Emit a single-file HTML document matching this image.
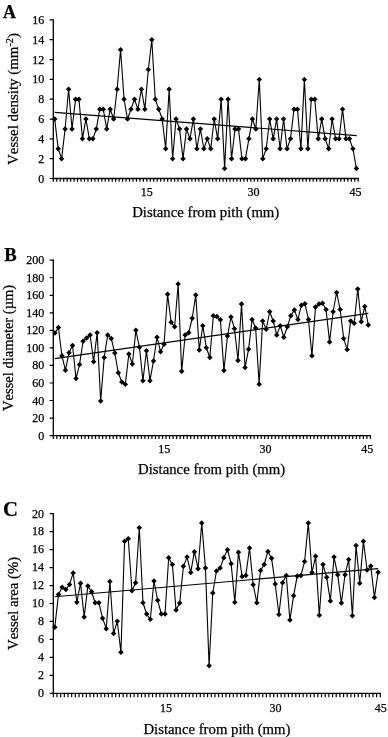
<!DOCTYPE html>
<html><head><meta charset="utf-8"><title>Figure</title>
<style>
html,body{margin:0;padding:0;background:#fff;}
svg{display:block;filter:grayscale(1);}
text{font-family:"Liberation Serif",serif;fill:#000;stroke:#000;stroke-width:0.25px;font-kerning:none;}
.tk{font-size:12px;}
.xt{font-size:14.75px;}
.ax{stroke:#000;stroke-width:1.3;fill:none;}
.tm{stroke:#000;stroke-width:1.2;fill:none;}
.ln{stroke:#000;stroke-width:1.1;fill:none;stroke-linejoin:round;}
.tr{stroke:#000;stroke-width:1.1;fill:none;}
.mk{fill:#000;stroke:none;}
</style></head><body>
<svg width="388" height="737" viewBox="0 0 388 737">
<rect width="388" height="737" fill="#fff"/>

<g id="panelA">
<text x="3.1" y="17.8" font-size="17.9px" font-weight="bold">A</text>
<path class="ax" d="M53.3 19.3V178.5H358.8"/>
<text class="tk" x="44.3" y="182.5" text-anchor="end">0</text>
<text class="tk" x="44.3" y="162.68" text-anchor="end">2</text>
<text class="tk" x="44.3" y="142.85" text-anchor="end">4</text>
<text class="tk" x="44.3" y="123.03" text-anchor="end">6</text>
<text class="tk" x="44.3" y="103.2" text-anchor="end">8</text>
<text class="tk" x="44.3" y="83.38" text-anchor="end">10</text>
<text class="tk" x="44.3" y="63.55" text-anchor="end">12</text>
<text class="tk" x="44.3" y="43.72" text-anchor="end">14</text>
<text class="tk" x="44.3" y="23.9" text-anchor="end">16</text>
<path class="tm" d="M49.7 178.5H53.3M49.7 158.68H53.3M49.7 138.85H53.3M49.7 119.03H53.3M49.7 99.2H53.3M49.7 79.38H53.3M49.7 59.55H53.3M49.7 39.72H53.3M49.7 19.9H53.3"/>
<path class="tm" d="M53.3 178.5v3.3M56.76 178.5v3.3M60.23 178.5v3.3M63.69 178.5v3.3M67.16 178.5v3.3M70.62 178.5v3.3M74.09 178.5v3.3M77.55 178.5v3.3M81.02 178.5v3.3M84.48 178.5v3.3M87.95 178.5v3.3M91.41 178.5v3.3M94.88 178.5v3.3M98.34 178.5v3.3M101.81 178.5v3.3M105.27 178.5v3.3M108.74 178.5v3.3M112.2 178.5v3.3M115.67 178.5v3.3M119.13 178.5v3.3M122.6 178.5v3.3M126.06 178.5v3.3M129.52 178.5v3.3M132.99 178.5v3.3M136.45 178.5v3.3M139.92 178.5v3.3M143.38 178.5v3.3M146.85 178.5v3.3M150.31 178.5v3.3M153.78 178.5v3.3M157.24 178.5v3.3M160.71 178.5v3.3M164.17 178.5v3.3M167.64 178.5v3.3M171.1 178.5v3.3M174.57 178.5v3.3M178.03 178.5v3.3M181.5 178.5v3.3M184.96 178.5v3.3M188.43 178.5v3.3M191.89 178.5v3.3M195.36 178.5v3.3M198.82 178.5v3.3M202.29 178.5v3.3M205.75 178.5v3.3M209.21 178.5v3.3M212.68 178.5v3.3M216.14 178.5v3.3M219.61 178.5v3.3M223.07 178.5v3.3M226.54 178.5v3.3M230 178.5v3.3M233.47 178.5v3.3M236.93 178.5v3.3M240.4 178.5v3.3M243.86 178.5v3.3M247.33 178.5v3.3M250.79 178.5v3.3M254.26 178.5v3.3M257.72 178.5v3.3M261.19 178.5v3.3M264.65 178.5v3.3M268.12 178.5v3.3M271.58 178.5v3.3M275.05 178.5v3.3M278.51 178.5v3.3M281.97 178.5v3.3M285.44 178.5v3.3M288.9 178.5v3.3M292.37 178.5v3.3M295.83 178.5v3.3M299.3 178.5v3.3M302.76 178.5v3.3M306.23 178.5v3.3M309.69 178.5v3.3M313.16 178.5v3.3M316.62 178.5v3.3M320.09 178.5v3.3M323.55 178.5v3.3M327.02 178.5v3.3M330.48 178.5v3.3M333.95 178.5v3.3M337.41 178.5v3.3M340.88 178.5v3.3M344.34 178.5v3.3M347.81 178.5v3.3M351.27 178.5v3.3M354.74 178.5v3.3M358.2 178.5v3.3"/>
<text class="tk" x="146.7" y="196.4" text-anchor="middle">15</text>
<text class="tk" x="253.6" y="196.4" text-anchor="middle">30</text>
<text class="tk" x="355.4" y="196.4" text-anchor="middle">45</text>
<text class="xt" x="132.2" y="217.3">Distance from pith (mm)</text>
<text x="17.6" y="164.9" font-size="14.9px" transform="rotate(-90 17.6 164.9)">Vessel density (mm<tspan dy="-4.7" font-size="10.3px">-2</tspan><tspan dy="4.7">)</tspan></text>
<path class="tr" d="M54.7 112.4L356.7 135.6"/>
<path class="ln" d="M54.7 119.04L58.17 148.77L61.64 158.68L65.1 128.95L68.57 89.31L72.04 128.95L75.51 99.22L78.97 99.22L82.44 138.86L85.91 119.04L89.38 138.86L92.85 138.86L96.31 128.95L99.78 109.13L103.25 109.13L106.72 128.95L110.19 109.13L113.65 119.04L117.12 89.31L120.59 49.67L124.06 99.22L127.52 119.04L130.99 109.13L134.46 99.22L137.93 109.13L141.4 89.31L144.86 109.13L148.33 69.49L151.8 39.76L155.27 99.22L158.73 109.13L162.2 119.04L165.67 148.77L169.14 89.31L172.61 158.68L176.07 119.04L179.54 128.95L183.01 158.68L186.48 128.95L189.94 138.86L193.41 119.04L196.88 148.77L200.35 128.95L203.82 148.77L207.28 138.86L210.75 148.77L214.22 119.04L217.69 138.86L221.16 99.22L224.62 168.59L228.09 99.22L231.56 158.68L235.03 128.95L238.49 128.95L241.96 158.68L245.43 158.68L248.9 138.86L252.37 119.04L255.83 128.95L259.3 79.4L262.77 158.68L266.24 148.77L269.7 119.04L273.17 138.86L276.64 119.04L280.11 148.77L283.58 119.04L287.04 148.77L290.51 138.86L293.98 109.13L297.45 109.13L300.91 148.77L304.38 79.4L307.85 148.77L311.32 99.22L314.79 99.22L318.25 138.86L321.72 119.04L325.19 138.86L328.66 148.77L332.13 119.04L335.59 138.86L339.06 138.86L342.53 109.13L346 138.86L349.46 138.86L352.93 148.77L356.4 168.59"/>
<path class="mk" d="M54.7 116.29l2.75 2.75l-2.75 2.75l-2.75 -2.75zM58.17 146.02l2.75 2.75l-2.75 2.75l-2.75 -2.75zM61.64 155.93l2.75 2.75l-2.75 2.75l-2.75 -2.75zM65.1 126.2l2.75 2.75l-2.75 2.75l-2.75 -2.75zM68.57 86.56l2.75 2.75l-2.75 2.75l-2.75 -2.75zM72.04 126.2l2.75 2.75l-2.75 2.75l-2.75 -2.75zM75.51 96.47l2.75 2.75l-2.75 2.75l-2.75 -2.75zM78.97 96.47l2.75 2.75l-2.75 2.75l-2.75 -2.75zM82.44 136.11l2.75 2.75l-2.75 2.75l-2.75 -2.75zM85.91 116.29l2.75 2.75l-2.75 2.75l-2.75 -2.75zM89.38 136.11l2.75 2.75l-2.75 2.75l-2.75 -2.75zM92.85 136.11l2.75 2.75l-2.75 2.75l-2.75 -2.75zM96.31 126.2l2.75 2.75l-2.75 2.75l-2.75 -2.75zM99.78 106.38l2.75 2.75l-2.75 2.75l-2.75 -2.75zM103.25 106.38l2.75 2.75l-2.75 2.75l-2.75 -2.75zM106.72 126.2l2.75 2.75l-2.75 2.75l-2.75 -2.75zM110.19 106.38l2.75 2.75l-2.75 2.75l-2.75 -2.75zM113.65 116.29l2.75 2.75l-2.75 2.75l-2.75 -2.75zM117.12 86.56l2.75 2.75l-2.75 2.75l-2.75 -2.75zM120.59 46.92l2.75 2.75l-2.75 2.75l-2.75 -2.75zM124.06 96.47l2.75 2.75l-2.75 2.75l-2.75 -2.75zM127.52 116.29l2.75 2.75l-2.75 2.75l-2.75 -2.75zM130.99 106.38l2.75 2.75l-2.75 2.75l-2.75 -2.75zM134.46 96.47l2.75 2.75l-2.75 2.75l-2.75 -2.75zM137.93 106.38l2.75 2.75l-2.75 2.75l-2.75 -2.75zM141.4 86.56l2.75 2.75l-2.75 2.75l-2.75 -2.75zM144.86 106.38l2.75 2.75l-2.75 2.75l-2.75 -2.75zM148.33 66.74l2.75 2.75l-2.75 2.75l-2.75 -2.75zM151.8 37.01l2.75 2.75l-2.75 2.75l-2.75 -2.75zM155.27 96.47l2.75 2.75l-2.75 2.75l-2.75 -2.75zM158.73 106.38l2.75 2.75l-2.75 2.75l-2.75 -2.75zM162.2 116.29l2.75 2.75l-2.75 2.75l-2.75 -2.75zM165.67 146.02l2.75 2.75l-2.75 2.75l-2.75 -2.75zM169.14 86.56l2.75 2.75l-2.75 2.75l-2.75 -2.75zM172.61 155.93l2.75 2.75l-2.75 2.75l-2.75 -2.75zM176.07 116.29l2.75 2.75l-2.75 2.75l-2.75 -2.75zM179.54 126.2l2.75 2.75l-2.75 2.75l-2.75 -2.75zM183.01 155.93l2.75 2.75l-2.75 2.75l-2.75 -2.75zM186.48 126.2l2.75 2.75l-2.75 2.75l-2.75 -2.75zM189.94 136.11l2.75 2.75l-2.75 2.75l-2.75 -2.75zM193.41 116.29l2.75 2.75l-2.75 2.75l-2.75 -2.75zM196.88 146.02l2.75 2.75l-2.75 2.75l-2.75 -2.75zM200.35 126.2l2.75 2.75l-2.75 2.75l-2.75 -2.75zM203.82 146.02l2.75 2.75l-2.75 2.75l-2.75 -2.75zM207.28 136.11l2.75 2.75l-2.75 2.75l-2.75 -2.75zM210.75 146.02l2.75 2.75l-2.75 2.75l-2.75 -2.75zM214.22 116.29l2.75 2.75l-2.75 2.75l-2.75 -2.75zM217.69 136.11l2.75 2.75l-2.75 2.75l-2.75 -2.75zM221.16 96.47l2.75 2.75l-2.75 2.75l-2.75 -2.75zM224.62 165.84l2.75 2.75l-2.75 2.75l-2.75 -2.75zM228.09 96.47l2.75 2.75l-2.75 2.75l-2.75 -2.75zM231.56 155.93l2.75 2.75l-2.75 2.75l-2.75 -2.75zM235.03 126.2l2.75 2.75l-2.75 2.75l-2.75 -2.75zM238.49 126.2l2.75 2.75l-2.75 2.75l-2.75 -2.75zM241.96 155.93l2.75 2.75l-2.75 2.75l-2.75 -2.75zM245.43 155.93l2.75 2.75l-2.75 2.75l-2.75 -2.75zM248.9 136.11l2.75 2.75l-2.75 2.75l-2.75 -2.75zM252.37 116.29l2.75 2.75l-2.75 2.75l-2.75 -2.75zM255.83 126.2l2.75 2.75l-2.75 2.75l-2.75 -2.75zM259.3 76.65l2.75 2.75l-2.75 2.75l-2.75 -2.75zM262.77 155.93l2.75 2.75l-2.75 2.75l-2.75 -2.75zM266.24 146.02l2.75 2.75l-2.75 2.75l-2.75 -2.75zM269.7 116.29l2.75 2.75l-2.75 2.75l-2.75 -2.75zM273.17 136.11l2.75 2.75l-2.75 2.75l-2.75 -2.75zM276.64 116.29l2.75 2.75l-2.75 2.75l-2.75 -2.75zM280.11 146.02l2.75 2.75l-2.75 2.75l-2.75 -2.75zM283.58 116.29l2.75 2.75l-2.75 2.75l-2.75 -2.75zM287.04 146.02l2.75 2.75l-2.75 2.75l-2.75 -2.75zM290.51 136.11l2.75 2.75l-2.75 2.75l-2.75 -2.75zM293.98 106.38l2.75 2.75l-2.75 2.75l-2.75 -2.75zM297.45 106.38l2.75 2.75l-2.75 2.75l-2.75 -2.75zM300.91 146.02l2.75 2.75l-2.75 2.75l-2.75 -2.75zM304.38 76.65l2.75 2.75l-2.75 2.75l-2.75 -2.75zM307.85 146.02l2.75 2.75l-2.75 2.75l-2.75 -2.75zM311.32 96.47l2.75 2.75l-2.75 2.75l-2.75 -2.75zM314.79 96.47l2.75 2.75l-2.75 2.75l-2.75 -2.75zM318.25 136.11l2.75 2.75l-2.75 2.75l-2.75 -2.75zM321.72 116.29l2.75 2.75l-2.75 2.75l-2.75 -2.75zM325.19 136.11l2.75 2.75l-2.75 2.75l-2.75 -2.75zM328.66 146.02l2.75 2.75l-2.75 2.75l-2.75 -2.75zM332.13 116.29l2.75 2.75l-2.75 2.75l-2.75 -2.75zM335.59 136.11l2.75 2.75l-2.75 2.75l-2.75 -2.75zM339.06 136.11l2.75 2.75l-2.75 2.75l-2.75 -2.75zM342.53 106.38l2.75 2.75l-2.75 2.75l-2.75 -2.75zM346 136.11l2.75 2.75l-2.75 2.75l-2.75 -2.75zM349.46 136.11l2.75 2.75l-2.75 2.75l-2.75 -2.75zM352.93 146.02l2.75 2.75l-2.75 2.75l-2.75 -2.75zM356.4 165.84l2.75 2.75l-2.75 2.75l-2.75 -2.75z"/>
</g>
<g id="panelB">
<text x="4.2" y="260.9" font-size="18.7px" font-weight="bold">B</text>
<path class="ax" d="M53.3 259.6V435.6H371"/>
<text class="tk" x="44.3" y="439.6" text-anchor="end">0</text>
<text class="tk" x="44.3" y="422.06" text-anchor="end">20</text>
<text class="tk" x="44.3" y="404.52" text-anchor="end">40</text>
<text class="tk" x="44.3" y="386.98" text-anchor="end">60</text>
<text class="tk" x="44.3" y="369.44" text-anchor="end">80</text>
<text class="tk" x="44.3" y="351.9" text-anchor="end">100</text>
<text class="tk" x="44.3" y="334.36" text-anchor="end">120</text>
<text class="tk" x="44.3" y="316.82" text-anchor="end">140</text>
<text class="tk" x="44.3" y="299.28" text-anchor="end">160</text>
<text class="tk" x="44.3" y="281.74" text-anchor="end">180</text>
<text class="tk" x="44.3" y="264.2" text-anchor="end">200</text>
<path class="tm" d="M49.7 435.6H53.3M49.7 418.06H53.3M49.7 400.52H53.3M49.7 382.98H53.3M49.7 365.44H53.3M49.7 347.9H53.3M49.7 330.36H53.3M49.7 312.82H53.3M49.7 295.28H53.3M49.7 277.74H53.3M49.7 260.2H53.3"/>
<path class="tm" d="M53.3 435.6v3.3M56.82 435.6v3.3M60.35 435.6v3.3M63.87 435.6v3.3M67.39 435.6v3.3M70.92 435.6v3.3M74.44 435.6v3.3M77.96 435.6v3.3M81.49 435.6v3.3M85.01 435.6v3.3M88.53 435.6v3.3M92.06 435.6v3.3M95.58 435.6v3.3M99.1 435.6v3.3M102.63 435.6v3.3M106.15 435.6v3.3M109.67 435.6v3.3M113.2 435.6v3.3M116.72 435.6v3.3M120.24 435.6v3.3M123.77 435.6v3.3M127.29 435.6v3.3M130.81 435.6v3.3M134.34 435.6v3.3M137.86 435.6v3.3M141.38 435.6v3.3M144.91 435.6v3.3M148.43 435.6v3.3M151.95 435.6v3.3M155.48 435.6v3.3M159 435.6v3.3M162.52 435.6v3.3M166.05 435.6v3.3M169.57 435.6v3.3M173.09 435.6v3.3M176.62 435.6v3.3M180.14 435.6v3.3M183.66 435.6v3.3M187.19 435.6v3.3M190.71 435.6v3.3M194.23 435.6v3.3M197.76 435.6v3.3M201.28 435.6v3.3M204.8 435.6v3.3M208.33 435.6v3.3M211.85 435.6v3.3M215.37 435.6v3.3M218.9 435.6v3.3M222.42 435.6v3.3M225.94 435.6v3.3M229.47 435.6v3.3M232.99 435.6v3.3M236.51 435.6v3.3M240.04 435.6v3.3M243.56 435.6v3.3M247.08 435.6v3.3M250.61 435.6v3.3M254.13 435.6v3.3M257.65 435.6v3.3M261.18 435.6v3.3M264.7 435.6v3.3M268.22 435.6v3.3M271.75 435.6v3.3M275.27 435.6v3.3M278.79 435.6v3.3M282.32 435.6v3.3M285.84 435.6v3.3M289.36 435.6v3.3M292.89 435.6v3.3M296.41 435.6v3.3M299.93 435.6v3.3M303.46 435.6v3.3M306.98 435.6v3.3M310.5 435.6v3.3M314.03 435.6v3.3M317.55 435.6v3.3M321.07 435.6v3.3M324.6 435.6v3.3M328.12 435.6v3.3M331.64 435.6v3.3M335.17 435.6v3.3M338.69 435.6v3.3M342.21 435.6v3.3M345.74 435.6v3.3M349.26 435.6v3.3M352.78 435.6v3.3M356.31 435.6v3.3M359.83 435.6v3.3M363.35 435.6v3.3M366.88 435.6v3.3M370.4 435.6v3.3"/>
<text class="tk" x="164.2" y="453.0" text-anchor="middle">15</text>
<text class="tk" x="265.6" y="453.0" text-anchor="middle">30</text>
<text class="tk" x="367.2" y="453.0" text-anchor="middle">45</text>
<text class="xt" x="138.1" y="474.4">Distance from pith (mm)</text>
<text x="12.75" y="410.9" font-size="14.53px" transform="rotate(-90 12.75 410.9)">Vessel diameter (µm)</text>
<path class="tr" d="M54.7 358.6L368.3 313.4"/>
<path class="ln" d="M54.9 333.09L58.42 327.53L61.94 355.83L65.46 370.21L68.99 352.81L72.51 345.39L76.03 378.56L79.55 364.41L83.07 341.21L86.59 337.97L90.11 334.95L93.63 361.63L97.16 332.63L100.68 401.06L104.2 357.45L107.72 334.95L111.24 338.43L114.76 353.04L118.28 372.76L121.81 382.04L125.33 384.36L128.85 353.97L132.37 363.95L135.89 330.31L139.41 347.24L142.93 380.65L146.46 350.72L149.98 380.65L153.5 360.93L157.02 337.27L160.54 351.65L164.06 344.23L167.58 294.36L171.1 322.19L174.63 326.83L178.15 283.92L181.67 371.37L185.19 334.95L188.71 332.63L192.23 318.25L195.75 295.05L199.28 350.03L202.8 325.67L206.32 347.71L209.84 357.45L213.36 315.7L216.88 316.39L220.4 319.87L223.92 370.44L227.45 336.11L230.97 317.09L234.49 328.69L238.01 360.47L241.53 304.1L245.05 367.43L248.57 349.33L252.1 319.41L255.62 327.99L259.14 384.13L262.66 321.03L266.18 329.15L269.7 311.75L273.22 321.03L276.74 334.95L280.27 325.67L283.79 337.27L287.31 326.83L290.83 315.7L294.35 309.9L297.87 319.41L301.39 305.26L304.92 303.63L308.44 319.41L311.96 355.83L315.48 307.11L319 304.1L322.52 303.17L326.04 309.43L329.57 341.91L333.09 311.75L336.61 292.5L340.13 309.43L343.65 338.43L347.17 349.56L350.69 321.03L354.21 323.35L357.74 289.02L361.26 321.73L364.78 306.42L368.3 324.98"/>
<path class="mk" d="M54.9 330.34l2.75 2.75l-2.75 2.75l-2.75 -2.75zM58.42 324.78l2.75 2.75l-2.75 2.75l-2.75 -2.75zM61.94 353.08l2.75 2.75l-2.75 2.75l-2.75 -2.75zM65.46 367.46l2.75 2.75l-2.75 2.75l-2.75 -2.75zM68.99 350.06l2.75 2.75l-2.75 2.75l-2.75 -2.75zM72.51 342.64l2.75 2.75l-2.75 2.75l-2.75 -2.75zM76.03 375.81l2.75 2.75l-2.75 2.75l-2.75 -2.75zM79.55 361.66l2.75 2.75l-2.75 2.75l-2.75 -2.75zM83.07 338.46l2.75 2.75l-2.75 2.75l-2.75 -2.75zM86.59 335.22l2.75 2.75l-2.75 2.75l-2.75 -2.75zM90.11 332.2l2.75 2.75l-2.75 2.75l-2.75 -2.75zM93.63 358.88l2.75 2.75l-2.75 2.75l-2.75 -2.75zM97.16 329.88l2.75 2.75l-2.75 2.75l-2.75 -2.75zM100.68 398.31l2.75 2.75l-2.75 2.75l-2.75 -2.75zM104.2 354.7l2.75 2.75l-2.75 2.75l-2.75 -2.75zM107.72 332.2l2.75 2.75l-2.75 2.75l-2.75 -2.75zM111.24 335.68l2.75 2.75l-2.75 2.75l-2.75 -2.75zM114.76 350.29l2.75 2.75l-2.75 2.75l-2.75 -2.75zM118.28 370.01l2.75 2.75l-2.75 2.75l-2.75 -2.75zM121.81 379.29l2.75 2.75l-2.75 2.75l-2.75 -2.75zM125.33 381.61l2.75 2.75l-2.75 2.75l-2.75 -2.75zM128.85 351.22l2.75 2.75l-2.75 2.75l-2.75 -2.75zM132.37 361.2l2.75 2.75l-2.75 2.75l-2.75 -2.75zM135.89 327.56l2.75 2.75l-2.75 2.75l-2.75 -2.75zM139.41 344.49l2.75 2.75l-2.75 2.75l-2.75 -2.75zM142.93 377.9l2.75 2.75l-2.75 2.75l-2.75 -2.75zM146.46 347.97l2.75 2.75l-2.75 2.75l-2.75 -2.75zM149.98 377.9l2.75 2.75l-2.75 2.75l-2.75 -2.75zM153.5 358.18l2.75 2.75l-2.75 2.75l-2.75 -2.75zM157.02 334.52l2.75 2.75l-2.75 2.75l-2.75 -2.75zM160.54 348.9l2.75 2.75l-2.75 2.75l-2.75 -2.75zM164.06 341.48l2.75 2.75l-2.75 2.75l-2.75 -2.75zM167.58 291.61l2.75 2.75l-2.75 2.75l-2.75 -2.75zM171.1 319.44l2.75 2.75l-2.75 2.75l-2.75 -2.75zM174.63 324.08l2.75 2.75l-2.75 2.75l-2.75 -2.75zM178.15 281.17l2.75 2.75l-2.75 2.75l-2.75 -2.75zM181.67 368.62l2.75 2.75l-2.75 2.75l-2.75 -2.75zM185.19 332.2l2.75 2.75l-2.75 2.75l-2.75 -2.75zM188.71 329.88l2.75 2.75l-2.75 2.75l-2.75 -2.75zM192.23 315.5l2.75 2.75l-2.75 2.75l-2.75 -2.75zM195.75 292.3l2.75 2.75l-2.75 2.75l-2.75 -2.75zM199.28 347.28l2.75 2.75l-2.75 2.75l-2.75 -2.75zM202.8 322.92l2.75 2.75l-2.75 2.75l-2.75 -2.75zM206.32 344.96l2.75 2.75l-2.75 2.75l-2.75 -2.75zM209.84 354.7l2.75 2.75l-2.75 2.75l-2.75 -2.75zM213.36 312.95l2.75 2.75l-2.75 2.75l-2.75 -2.75zM216.88 313.64l2.75 2.75l-2.75 2.75l-2.75 -2.75zM220.4 317.12l2.75 2.75l-2.75 2.75l-2.75 -2.75zM223.92 367.69l2.75 2.75l-2.75 2.75l-2.75 -2.75zM227.45 333.36l2.75 2.75l-2.75 2.75l-2.75 -2.75zM230.97 314.34l2.75 2.75l-2.75 2.75l-2.75 -2.75zM234.49 325.94l2.75 2.75l-2.75 2.75l-2.75 -2.75zM238.01 357.72l2.75 2.75l-2.75 2.75l-2.75 -2.75zM241.53 301.35l2.75 2.75l-2.75 2.75l-2.75 -2.75zM245.05 364.68l2.75 2.75l-2.75 2.75l-2.75 -2.75zM248.57 346.58l2.75 2.75l-2.75 2.75l-2.75 -2.75zM252.1 316.66l2.75 2.75l-2.75 2.75l-2.75 -2.75zM255.62 325.24l2.75 2.75l-2.75 2.75l-2.75 -2.75zM259.14 381.38l2.75 2.75l-2.75 2.75l-2.75 -2.75zM262.66 318.28l2.75 2.75l-2.75 2.75l-2.75 -2.75zM266.18 326.4l2.75 2.75l-2.75 2.75l-2.75 -2.75zM269.7 309l2.75 2.75l-2.75 2.75l-2.75 -2.75zM273.22 318.28l2.75 2.75l-2.75 2.75l-2.75 -2.75zM276.74 332.2l2.75 2.75l-2.75 2.75l-2.75 -2.75zM280.27 322.92l2.75 2.75l-2.75 2.75l-2.75 -2.75zM283.79 334.52l2.75 2.75l-2.75 2.75l-2.75 -2.75zM287.31 324.08l2.75 2.75l-2.75 2.75l-2.75 -2.75zM290.83 312.95l2.75 2.75l-2.75 2.75l-2.75 -2.75zM294.35 307.15l2.75 2.75l-2.75 2.75l-2.75 -2.75zM297.87 316.66l2.75 2.75l-2.75 2.75l-2.75 -2.75zM301.39 302.51l2.75 2.75l-2.75 2.75l-2.75 -2.75zM304.92 300.88l2.75 2.75l-2.75 2.75l-2.75 -2.75zM308.44 316.66l2.75 2.75l-2.75 2.75l-2.75 -2.75zM311.96 353.08l2.75 2.75l-2.75 2.75l-2.75 -2.75zM315.48 304.36l2.75 2.75l-2.75 2.75l-2.75 -2.75zM319 301.35l2.75 2.75l-2.75 2.75l-2.75 -2.75zM322.52 300.42l2.75 2.75l-2.75 2.75l-2.75 -2.75zM326.04 306.68l2.75 2.75l-2.75 2.75l-2.75 -2.75zM329.57 339.16l2.75 2.75l-2.75 2.75l-2.75 -2.75zM333.09 309l2.75 2.75l-2.75 2.75l-2.75 -2.75zM336.61 289.75l2.75 2.75l-2.75 2.75l-2.75 -2.75zM340.13 306.68l2.75 2.75l-2.75 2.75l-2.75 -2.75zM343.65 335.68l2.75 2.75l-2.75 2.75l-2.75 -2.75zM347.17 346.81l2.75 2.75l-2.75 2.75l-2.75 -2.75zM350.69 318.28l2.75 2.75l-2.75 2.75l-2.75 -2.75zM354.21 320.6l2.75 2.75l-2.75 2.75l-2.75 -2.75zM357.74 286.27l2.75 2.75l-2.75 2.75l-2.75 -2.75zM361.26 318.98l2.75 2.75l-2.75 2.75l-2.75 -2.75zM364.78 303.67l2.75 2.75l-2.75 2.75l-2.75 -2.75zM368.3 322.23l2.75 2.75l-2.75 2.75l-2.75 -2.75z"/>
</g>
<g id="panelC">
<text x="2.9" y="515.6" font-size="20.7px" font-weight="bold">C</text>
<path class="ax" d="M53.3 513.1V693.3H380.9"/>
<text class="tk" x="44.0" y="697.1" text-anchor="end">0</text>
<text class="tk" x="44.0" y="679.14" text-anchor="end">2</text>
<text class="tk" x="44.0" y="661.18" text-anchor="end">4</text>
<text class="tk" x="44.0" y="643.22" text-anchor="end">6</text>
<text class="tk" x="44.0" y="625.26" text-anchor="end">8</text>
<text class="tk" x="44.0" y="607.3" text-anchor="end">10</text>
<text class="tk" x="44.0" y="589.34" text-anchor="end">12</text>
<text class="tk" x="44.0" y="571.38" text-anchor="end">14</text>
<text class="tk" x="44.0" y="553.42" text-anchor="end">16</text>
<text class="tk" x="44.0" y="535.46" text-anchor="end">18</text>
<text class="tk" x="44.0" y="517.5" text-anchor="end">20</text>
<path class="tm" d="M49.7 693.3H53.3M49.7 675.34H53.3M49.7 657.38H53.3M49.7 639.42H53.3M49.7 621.46H53.3M49.7 603.5H53.3M49.7 585.54H53.3M49.7 567.58H53.3M49.7 549.62H53.3M49.7 531.66H53.3M49.7 513.7H53.3"/>
<path class="tm" d="M53.3 693.3v4.0M56.97 693.3v4.0M60.65 693.3v4.0M64.32 693.3v4.0M68 693.3v4.0M71.67 693.3v4.0M75.34 693.3v4.0M79.02 693.3v4.0M82.69 693.3v4.0M86.37 693.3v4.0M90.04 693.3v4.0M93.72 693.3v4.0M97.39 693.3v4.0M101.06 693.3v4.0M104.74 693.3v4.0M108.41 693.3v4.0M112.09 693.3v4.0M115.76 693.3v4.0M119.43 693.3v4.0M123.11 693.3v4.0M126.78 693.3v4.0M130.46 693.3v4.0M134.13 693.3v4.0M137.81 693.3v4.0M141.48 693.3v4.0M145.15 693.3v4.0M148.83 693.3v4.0M152.5 693.3v4.0M156.18 693.3v4.0M159.85 693.3v4.0M163.52 693.3v4.0M167.2 693.3v4.0M170.87 693.3v4.0M174.55 693.3v4.0M178.22 693.3v4.0M181.9 693.3v4.0M185.57 693.3v4.0M189.24 693.3v4.0M192.92 693.3v4.0M196.59 693.3v4.0M200.27 693.3v4.0M203.94 693.3v4.0M207.61 693.3v4.0M211.29 693.3v4.0M214.96 693.3v4.0M218.64 693.3v4.0M222.31 693.3v4.0M225.99 693.3v4.0M229.66 693.3v4.0M233.33 693.3v4.0M237.01 693.3v4.0M240.68 693.3v4.0M244.36 693.3v4.0M248.03 693.3v4.0M251.7 693.3v4.0M255.38 693.3v4.0M259.05 693.3v4.0M262.73 693.3v4.0M266.4 693.3v4.0M270.08 693.3v4.0M273.75 693.3v4.0M277.42 693.3v4.0M281.1 693.3v4.0M284.77 693.3v4.0M288.45 693.3v4.0M292.12 693.3v4.0M295.79 693.3v4.0M299.47 693.3v4.0M303.14 693.3v4.0M306.82 693.3v4.0M310.49 693.3v4.0M314.17 693.3v4.0M317.84 693.3v4.0M321.51 693.3v4.0M325.19 693.3v4.0M328.86 693.3v4.0M332.54 693.3v4.0M336.21 693.3v4.0M339.88 693.3v4.0M343.56 693.3v4.0M347.23 693.3v4.0M350.91 693.3v4.0M354.58 693.3v4.0M358.26 693.3v4.0M361.93 693.3v4.0M365.6 693.3v4.0M369.28 693.3v4.0M372.95 693.3v4.0M376.63 693.3v4.0M380.3 693.3v4.0"/>
<text class="tk" x="166.1" y="712.0" text-anchor="middle">15</text>
<text class="tk" x="275.6" y="712.0" text-anchor="middle">30</text>
<text class="tk" x="380.8" y="712.0" text-anchor="middle">45</text>
<text class="xt" x="143.4" y="734.2">Distance from pith (mm)</text>
<text x="18.1" y="649.9" font-size="14.69px" transform="rotate(-90 18.1 649.9)">Vessel area (%)</text>
<path class="tr" d="M54.8 596.7L378.1 568.6"/>
<path class="ln" d="M54.8 627.18L58.47 594.45L62.15 587.13L65.82 589.57L69.5 584.44L73.17 572.96L76.84 602.27L80.52 583.22L84.19 616.93L87.86 585.9L91.54 591.77L95.21 602.76L98.89 602.76L102.56 618.15L106.23 628.65L109.91 581.51L113.58 633.53L117.26 621.32L120.93 652.34L124.6 541.2L128.28 538.76L131.95 590.79L135.62 582.73L139.3 527.77L142.97 602.76L146.65 613.99L150.32 619.37L153.99 581.02L157.67 600.32L161.34 613.99L165.02 613.99L168.69 557.81L172.36 564.41L176.04 610.09L179.71 603L183.39 566.36L187.06 557.08L190.73 572.47L194.41 551.71L198.08 568.81L201.75 522.89L205.43 568.07L209.1 665.78L212.78 592.99L216.45 571L220.12 568.07L223.8 557.81L227.47 549.75L231.15 563.68L234.82 602.27L238.49 552.2L242.17 576.62L245.84 575.4L249.51 548.04L253.19 584.68L256.86 602.76L260.54 570.52L264.21 564.41L267.88 551.46L271.56 558.3L275.23 583.95L278.91 614.48L282.58 582.73L286.25 575.4L289.93 620.1L293.6 595.67L297.27 575.89L300.95 575.4L304.62 561.48L308.3 522.89L311.97 572.47L315.64 556.35L319.32 615.22L322.99 564.41L326.67 577.36L330.34 601.05L334.01 557.08L337.69 574.67L341.36 603L345.04 574.67L348.71 559.52L352.38 615.7L356.06 545.6L359.73 583.22L363.4 541.2L367.08 570.03L370.75 566.12L374.43 597.38L378.1 572.23"/>
<path class="mk" d="M54.8 624.43l2.75 2.75l-2.75 2.75l-2.75 -2.75zM58.47 591.7l2.75 2.75l-2.75 2.75l-2.75 -2.75zM62.15 584.38l2.75 2.75l-2.75 2.75l-2.75 -2.75zM65.82 586.82l2.75 2.75l-2.75 2.75l-2.75 -2.75zM69.5 581.69l2.75 2.75l-2.75 2.75l-2.75 -2.75zM73.17 570.21l2.75 2.75l-2.75 2.75l-2.75 -2.75zM76.84 599.52l2.75 2.75l-2.75 2.75l-2.75 -2.75zM80.52 580.47l2.75 2.75l-2.75 2.75l-2.75 -2.75zM84.19 614.18l2.75 2.75l-2.75 2.75l-2.75 -2.75zM87.86 583.15l2.75 2.75l-2.75 2.75l-2.75 -2.75zM91.54 589.02l2.75 2.75l-2.75 2.75l-2.75 -2.75zM95.21 600.01l2.75 2.75l-2.75 2.75l-2.75 -2.75zM98.89 600.01l2.75 2.75l-2.75 2.75l-2.75 -2.75zM102.56 615.4l2.75 2.75l-2.75 2.75l-2.75 -2.75zM106.23 625.9l2.75 2.75l-2.75 2.75l-2.75 -2.75zM109.91 578.76l2.75 2.75l-2.75 2.75l-2.75 -2.75zM113.58 630.78l2.75 2.75l-2.75 2.75l-2.75 -2.75zM117.26 618.57l2.75 2.75l-2.75 2.75l-2.75 -2.75zM120.93 649.59l2.75 2.75l-2.75 2.75l-2.75 -2.75zM124.6 538.45l2.75 2.75l-2.75 2.75l-2.75 -2.75zM128.28 536.01l2.75 2.75l-2.75 2.75l-2.75 -2.75zM131.95 588.04l2.75 2.75l-2.75 2.75l-2.75 -2.75zM135.62 579.98l2.75 2.75l-2.75 2.75l-2.75 -2.75zM139.3 525.02l2.75 2.75l-2.75 2.75l-2.75 -2.75zM142.97 600.01l2.75 2.75l-2.75 2.75l-2.75 -2.75zM146.65 611.24l2.75 2.75l-2.75 2.75l-2.75 -2.75zM150.32 616.62l2.75 2.75l-2.75 2.75l-2.75 -2.75zM153.99 578.27l2.75 2.75l-2.75 2.75l-2.75 -2.75zM157.67 597.57l2.75 2.75l-2.75 2.75l-2.75 -2.75zM161.34 611.24l2.75 2.75l-2.75 2.75l-2.75 -2.75zM165.02 611.24l2.75 2.75l-2.75 2.75l-2.75 -2.75zM168.69 555.06l2.75 2.75l-2.75 2.75l-2.75 -2.75zM172.36 561.66l2.75 2.75l-2.75 2.75l-2.75 -2.75zM176.04 607.34l2.75 2.75l-2.75 2.75l-2.75 -2.75zM179.71 600.25l2.75 2.75l-2.75 2.75l-2.75 -2.75zM183.39 563.61l2.75 2.75l-2.75 2.75l-2.75 -2.75zM187.06 554.33l2.75 2.75l-2.75 2.75l-2.75 -2.75zM190.73 569.72l2.75 2.75l-2.75 2.75l-2.75 -2.75zM194.41 548.96l2.75 2.75l-2.75 2.75l-2.75 -2.75zM198.08 566.06l2.75 2.75l-2.75 2.75l-2.75 -2.75zM201.75 520.14l2.75 2.75l-2.75 2.75l-2.75 -2.75zM205.43 565.32l2.75 2.75l-2.75 2.75l-2.75 -2.75zM209.1 663.03l2.75 2.75l-2.75 2.75l-2.75 -2.75zM212.78 590.24l2.75 2.75l-2.75 2.75l-2.75 -2.75zM216.45 568.25l2.75 2.75l-2.75 2.75l-2.75 -2.75zM220.12 565.32l2.75 2.75l-2.75 2.75l-2.75 -2.75zM223.8 555.06l2.75 2.75l-2.75 2.75l-2.75 -2.75zM227.47 547l2.75 2.75l-2.75 2.75l-2.75 -2.75zM231.15 560.93l2.75 2.75l-2.75 2.75l-2.75 -2.75zM234.82 599.52l2.75 2.75l-2.75 2.75l-2.75 -2.75zM238.49 549.45l2.75 2.75l-2.75 2.75l-2.75 -2.75zM242.17 573.87l2.75 2.75l-2.75 2.75l-2.75 -2.75zM245.84 572.65l2.75 2.75l-2.75 2.75l-2.75 -2.75zM249.51 545.29l2.75 2.75l-2.75 2.75l-2.75 -2.75zM253.19 581.93l2.75 2.75l-2.75 2.75l-2.75 -2.75zM256.86 600.01l2.75 2.75l-2.75 2.75l-2.75 -2.75zM260.54 567.77l2.75 2.75l-2.75 2.75l-2.75 -2.75zM264.21 561.66l2.75 2.75l-2.75 2.75l-2.75 -2.75zM267.88 548.71l2.75 2.75l-2.75 2.75l-2.75 -2.75zM271.56 555.55l2.75 2.75l-2.75 2.75l-2.75 -2.75zM275.23 581.2l2.75 2.75l-2.75 2.75l-2.75 -2.75zM278.91 611.73l2.75 2.75l-2.75 2.75l-2.75 -2.75zM282.58 579.98l2.75 2.75l-2.75 2.75l-2.75 -2.75zM286.25 572.65l2.75 2.75l-2.75 2.75l-2.75 -2.75zM289.93 617.35l2.75 2.75l-2.75 2.75l-2.75 -2.75zM293.6 592.92l2.75 2.75l-2.75 2.75l-2.75 -2.75zM297.27 573.14l2.75 2.75l-2.75 2.75l-2.75 -2.75zM300.95 572.65l2.75 2.75l-2.75 2.75l-2.75 -2.75zM304.62 558.73l2.75 2.75l-2.75 2.75l-2.75 -2.75zM308.3 520.14l2.75 2.75l-2.75 2.75l-2.75 -2.75zM311.97 569.72l2.75 2.75l-2.75 2.75l-2.75 -2.75zM315.64 553.6l2.75 2.75l-2.75 2.75l-2.75 -2.75zM319.32 612.47l2.75 2.75l-2.75 2.75l-2.75 -2.75zM322.99 561.66l2.75 2.75l-2.75 2.75l-2.75 -2.75zM326.67 574.61l2.75 2.75l-2.75 2.75l-2.75 -2.75zM330.34 598.3l2.75 2.75l-2.75 2.75l-2.75 -2.75zM334.01 554.33l2.75 2.75l-2.75 2.75l-2.75 -2.75zM337.69 571.92l2.75 2.75l-2.75 2.75l-2.75 -2.75zM341.36 600.25l2.75 2.75l-2.75 2.75l-2.75 -2.75zM345.04 571.92l2.75 2.75l-2.75 2.75l-2.75 -2.75zM348.71 556.77l2.75 2.75l-2.75 2.75l-2.75 -2.75zM352.38 612.95l2.75 2.75l-2.75 2.75l-2.75 -2.75zM356.06 542.85l2.75 2.75l-2.75 2.75l-2.75 -2.75zM359.73 580.47l2.75 2.75l-2.75 2.75l-2.75 -2.75zM363.4 538.45l2.75 2.75l-2.75 2.75l-2.75 -2.75zM367.08 567.28l2.75 2.75l-2.75 2.75l-2.75 -2.75zM370.75 563.37l2.75 2.75l-2.75 2.75l-2.75 -2.75zM374.43 594.63l2.75 2.75l-2.75 2.75l-2.75 -2.75zM378.1 569.48l2.75 2.75l-2.75 2.75l-2.75 -2.75z"/>
</g>
</svg></body></html>
